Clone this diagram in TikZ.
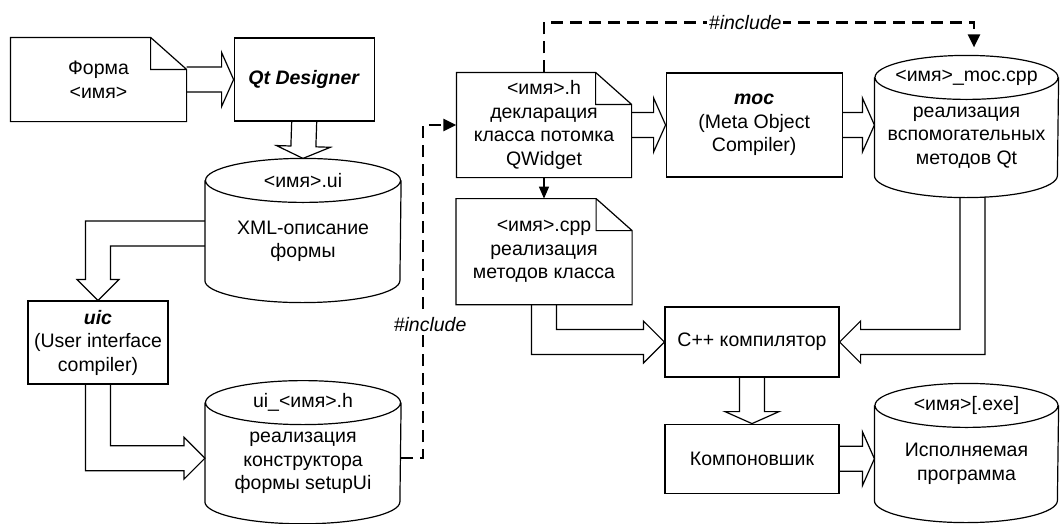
\documentclass[tikz,border=0pt]{standalone}
\usepackage{fontspec}
\setmainfont{Liberation Sans}
\usepackage{tikz}
\usetikzlibrary{arrows.meta,positioning,calc}
\newcommand{\diafont}{\fontsize{19.5}{23.5}\selectfont}

\begin{document}
\begin{tikzpicture}[
    x=1pt, y=-1pt,
    line width=1.2pt,
    font=\diafont,
    box/.style={draw, align=center, inner sep=0pt},
    doc/.style={align=center, inner sep=0pt,
      append after command={\pgfextra{\let\docnode\tikzlastnode
        \draw (\docnode.north west) -- ([xshift=-36pt]\docnode.north east)
          -- ([yshift=-32pt]\docnode.north east) -- (\docnode.south east)
          -- (\docnode.south west) -- cycle
          ([xshift=-36pt]\docnode.north east) |- ([yshift=-32pt]\docnode.north east);}}},
    cyl/.style={align=center, inner sep=0pt, minimum width=#1,
      append after command={\pgfextra{\let\cylnode\tikzlastnode
        \draw ([yshift=22pt]\cylnode.north) ellipse [x radius=#1/2, y radius=22pt]
          ([yshift=22pt]\cylnode.north west) -- (\cylnode.south west)
          arc [start angle=180, end angle=360, x radius=#1/2, y radius=22pt]
          -- ([yshift=22pt]\cylnode.north east);}}},
    head/.style={label={[anchor=center, yshift=22pt]north:#1}},
    hollow/.style={to path={
      ($(\tikztostart)!12.5pt!90:(\tikztotarget)$)
      -- ($(\tikztotarget)!12pt!(\tikztostart)!12.5pt!90:(\tikztotarget)$)
      -- ($(\tikztotarget)!12pt!(\tikztostart)!27pt!90:(\tikztotarget)$)
      -- (\tikztotarget)
      -- ($(\tikztotarget)!12pt!(\tikztostart)!27pt!-90:(\tikztotarget)$)
      -- ($(\tikztotarget)!12pt!(\tikztostart)!12.5pt!-90:(\tikztotarget)$)
      -- ($(\tikztostart)!12.5pt!-90:(\tikztotarget)$)}},
    dasharrow/.style={line width=2.5pt, dash pattern=on 12pt off 7pt, -{Triangle[length=13pt, width=12pt]}},
    arr/.style={line width=1.5pt, -{Triangle[length=12pt, width=10pt]}},
    inc/.style={fill=white, inner sep=1.5pt, font=\diafont\itshape}
  ]
    \useasboundingbox (0,0) rectangle (1060,523);

    % left column
    \node[doc, minimum width=175pt, minimum height=83pt] (form) at (98.5,79.5) {Форма\\<имя>};
    \node[box, minimum width=140pt, minimum height=83pt, right=47pt of form] (qtd) {\textbf{\textit{Qt Designer}}};
    \node[cyl=195pt, minimum height=77pt, head={<имя>.ui}] (ui) at (303,241.5) {XML-описание\\формы};
    \node[box, minimum width=140pt, minimum height=83pt] (uic) at (98,342.5) {\textbf{\textit{uic}}\\(User interface\\compiler)};
    \node[cyl=195pt, minimum height=76pt, head={ui\_<имя>.h}, below=144pt of ui] (uih) {реализация\\конструктора\\формы setupUi};

    % right part
    \node[doc, minimum width=174pt, minimum height=104pt] (hdr) at (544,125) {<имя>.h\\декларация\\класса потомка\\QWidget};
    \node[box, minimum width=176pt, minimum height=104pt, right=34pt of hdr] (moc) {\textbf{\textit{moc}}\\(Meta Object\\Compiler)};
    \node[cyl=183pt, minimum height=75pt, head={<имя>\_moc.cpp}] (moccpp) at (966.5,137.5) {реализация\\вспомогательных\\методов Qt};
    \node[doc, minimum width=175pt, minimum height=105pt, below=21pt of hdr] (cpp) {<имя>.cpp\\реализация\\методов класса};
    \node[box, minimum width=174pt, minimum height=70pt] (cc) at (752,342) {C++ компилятор};
    \node[box, minimum width=174pt, minimum height=69pt, below=46pt of cc] (lnk) {Компоновшик};
    \node[cyl=183pt, minimum height=72pt, head={{<имя>[.exe]}}] (exe) at (966.5,464) {Исполняемая\\программа};

    % hollow arrows
    \draw (form.east) to[hollow] (qtd.west);
    \draw (qtd.south) to[hollow] ($(ui.north)+(0,-44)$);
    \draw (hdr.east) to[hollow] (moc.west);
    \draw (moc.east) to[hollow] (moc.east -| moccpp.west);
    \draw (cc.south) to[hollow] (lnk.north);
    \draw (lnk.east) to[hollow] (lnk.east -| exe.west);

    \draw ($(ui.west)+(0,-20.5)$) -| ($(uic.north)+(-12.5,-21)$) -- ($(uic.north)+(-21,-21)$) -- (uic.north)
      -- ($(uic.north)+(21,-21)$) -- ($(uic.north)+(12.5,-21)$) |- ($(ui.west)+(0,4.5)$);
    \draw ($(uic.south)+(-12.5,0)$) |- ($(uih.west)+(-21,7.5)$) -- ($(uih.west)+(-21,16)$) -- ($(uih.west)+(0,-5)$)
      -- ($(uih.west)+(-21,-26)$) -- ($(uih.west)+(-21,-17.5)$) -| ($(uic.south)+(12.5,0)$);
    \draw ($(cpp.south)+(-12.5,0)$) |- ($(cc.west)+(-21,12.5)$) -- ($(cc.west)+(-21,21)$) -- (cc.west)
      -- ($(cc.west)+(-21,-21)$) -- ($(cc.west)+(-21,-12.5)$) -| ($(cpp.south)+(12.5,0)$);
    \draw ($(moccpp.south)+(-6.5,21.5)$) |- ($(cc.east)+(21,-12.5)$) -- ($(cc.east)+(21,-21)$) -- (cc.east)
      -- ($(cc.east)+(21,21)$) -- ($(cc.east)+(21,12.5)$) -| ($(moccpp.south)+(18.5,21)$);

    % includes
    \draw[arr] (hdr.south) -- (cpp.north);
    \draw[dasharrow] ($(uih.east)+(0,-5)$) -- ++(22,0) |- (hdr.west)
      node[inc, pos=0.2, xshift=7pt] (inc1) {\#include};
    \draw[dasharrow] (hdr.north) -- ++(0,-50) -| ($(moccpp.north)+(7.5,-52)$)
      node[inc, pos=0.234] (inc2) {\#include};
  \end{tikzpicture}
\end{document}
